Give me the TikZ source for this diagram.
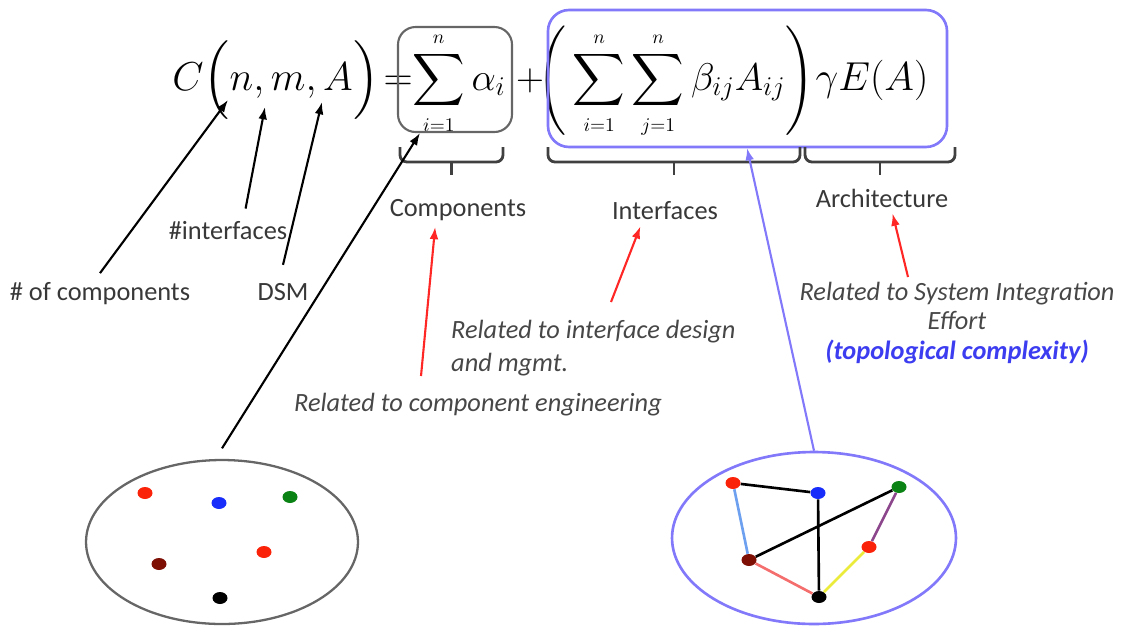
\RequirePackage{fix-cm}
\documentclass[tikz,border=0pt]{standalone}
\usepackage{amsmath}
\usepackage{fontspec}
\setsansfont{Carlito}
\usetikzlibrary{arrows.meta,shapes.geometric}

\definecolor{boxblue}{RGB}{130,120,250}
\definecolor{topoblue}{RGB}{60,60,240}
\definecolor{dotred}{RGB}{250,35,10}
\definecolor{dotblue}{RGB}{25,45,250}
\definecolor{dotgreen}{RGB}{10,130,20}
\definecolor{dotbrown}{RGB}{125,15,5}
\definecolor{edgeblue}{RGB}{110,160,240}
\definecolor{edgered}{RGB}{245,110,110}
\definecolor{edgepurple}{RGB}{140,70,140}
\definecolor{edgeyellow}{RGB}{235,235,60}

\newcommand{\sumlim}[1]{{\scriptscriptstyle #1}}

\tikzset{
  fml/.style={font=\fontsize{22}{26}\selectfont, inner sep=0pt, anchor=base},
  bigfml/.style={fml, font=\fontsize{23}{28}\selectfont},
  lbl/.style={font=\sffamily\fontsize{15}{18}\selectfont, text=black!78},
  rel/.style={font=\sffamily\itshape\fontsize{15}{17}\selectfont, text=black!72},
  ptr/.style={-{Latex[length=7pt,width=5pt]}, line width=1.2pt},
  redptr/.style={ptr, red!85!white},
  ubrace/.style={line width=1.6pt, black!75, rounded corners=4pt},
  dot/.style={ellipse, inner sep=0pt, minimum width=0.3cm, minimum height=0.24cm},
  lnk/.style={line width=1.5pt}
}

\begin{document}
\begin{tikzpicture}[x=0.02cm, y=-0.02cm]
  \useasboundingbox (0,0) rectangle (1122,626);

  % formula
  \node[bigfml, anchor=base west] (lhs) at (172,90) {$C\Bigl(n,m,A\Bigr)\mskip-3mu=$};
  \node[fml] (comp) at (459,90) {$\displaystyle\sum_{\sumlim{i=1}}^{\sumlim{n}}\alpha_i$};
  \node[fml] (plus) at (530,90) {$+$};
  \node[fml] (intf) at (676,90) {$\left(\rule[-26pt]{0pt}{60pt}\displaystyle\sum_{\sumlim{i=1}}^{\sumlim{n}}\sum_{\sumlim{j=1}}^{\sumlim{n}}\beta_{ij}A_{ij}\right)$};
  \node[bigfml] (arch) at (872,90) {$\gamma E(A)$};

  % boxes round the terms
  \draw[black!60, line width=1.2pt, rounded corners=10pt] (398,27) rectangle (512,132);
  \draw[boxblue, line width=1.5pt, rounded corners=12pt] (548,10) rectangle (947,147);

  % braces
  \foreach \a/\b in {400/503, 548/800, 805/955} {
    \draw[ubrace] (\a,147) -- (\a,162) -- (\b,162) -- (\b,147);
    \draw[ubrace] ({(\a+\b)/2},161) -- ++(0,14);
  }

  \node[lbl] (comps) at (458,210) {Components};
  \node[lbl] (intfs) at (665,211) {Interfaces};
  \node[lbl] (archs) at (882,198) {Architecture};

  % arguments
  \node[lbl] (ncomp) at (100,294) {\# of components};
  \node[lbl] (nintf) at (228,231) {\#interfaces};
  \node[lbl] (ndsm) at (283,292) {DSM};

  \coordinate (tipn) at (228,100);
  \coordinate (tipm) at (265,107);
  \coordinate (tipa) at (322,102);
  \coordinate (tipc) at (420,133);
  \coordinate (tipb) at (747,148);

  \draw[ptr] ([yshift=2pt]ncomp.north) -- (tipn);
  \draw[ptr] ([xshift=10pt, yshift=4pt]nintf.north) -- (tipm);
  \draw[ptr] ([yshift=7pt]ndsm.north) -- (tipa);

  % what each term stands for
  \node[rel, align=left, anchor=north west, font=\sffamily\itshape\fontsize{15}{18.7}\selectfont] (relintf) at (445,314) {Related to interface design\\and mgmt.};
  \node[rel] (relcomp) at (478,405) {Related to component engineering};
  \node[rel, align=center] (relarch) at (957,323) {Related to System Integration\\Effort\\{\bfseries\color{topoblue}(topological complexity)}};

  \coordinate (rtc) at (421,376);
  \coordinate (rti) at (611,302);
  \coordinate (rta) at (908,277);
  \draw[redptr] (rtc) -- ([xshift=-13pt]comps.south);
  \draw[redptr] (rti) -- ([xshift=-14pt]intfs.south);
  \draw[redptr] (rta) -- ([xshift=6pt]archs.south);

  % components only
  \node[ellipse, draw=black!60, line width=1.3pt, minimum width=5.44cm, minimum height=3.28cm, inner sep=0pt] (lell) at (222,542) {};
  \node[dot, fill=dotred] (l1) at (145,493) {};
  \node[dot, fill=dotblue] (l2) at (219,503) {};
  \node[dot, fill=dotgreen] (l3) at (290,497) {};
  \node[dot, fill=dotred] (l4) at (264,552) {};
  \node[dot, fill=dotbrown] (l5) at (159,564) {};
  \node[dot, fill=black] (l6) at (220,598) {};
  \draw[ptr] ([yshift=6pt]lell.north) -- (tipc);

  % components with interfaces
  \node[ellipse, draw=boxblue, line width=1.5pt, minimum width=5.68cm, minimum height=3.44cm, inner sep=0pt] (rell) at (814,538) {};
  \node[dot, fill=dotred] (g1) at (733,483) {};
  \node[dot, fill=dotblue] (g2) at (818,493) {};
  \node[dot, fill=dotgreen] (g3) at (899,487) {};
  \node[dot, fill=dotred] (g4) at (869,547) {};
  \node[dot, fill=dotbrown] (g5) at (749,560) {};
  \node[dot, fill=black] (g6) at (819,597) {};
  \draw[lnk] (g1) -- (g2);
  \draw[lnk, edgeblue] (g1) -- (g5);
  \draw[lnk] (g5) -- (g3);
  \draw[lnk] (g2) -- (g6);
  \draw[lnk, edgepurple] (g3) -- (g4);
  \draw[lnk, edgeyellow] (g4) -- (g6);
  \draw[lnk, edgered] (g5) -- (g6);
  \draw[ptr, boxblue] (rell.north) -- (tipb);
\end{tikzpicture}
\end{document}
